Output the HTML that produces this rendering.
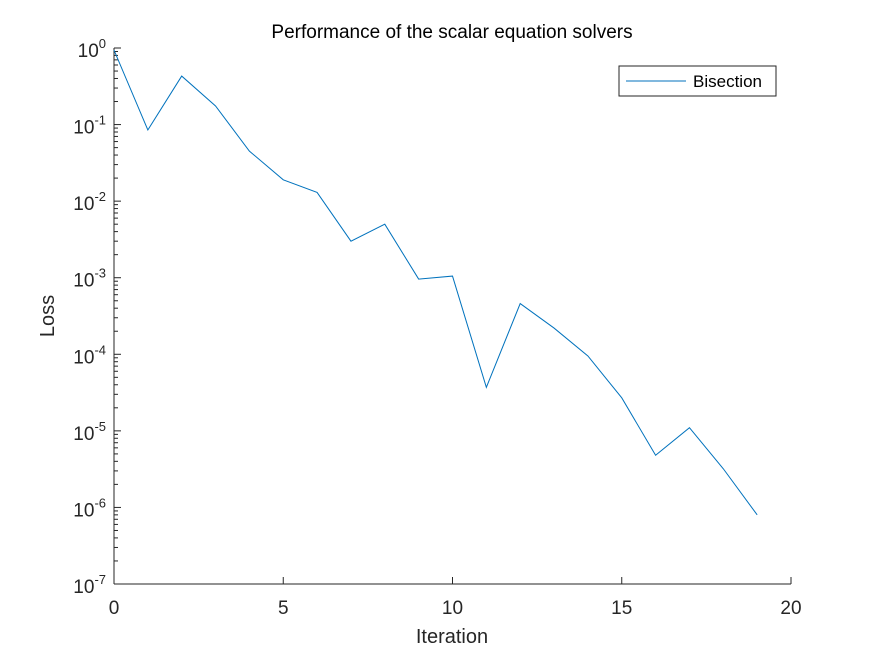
<!DOCTYPE html>
<html><head><meta charset="utf-8"><style>
body{margin:0;background:#fff;}
svg{display:block;font-family:"Liberation Sans",sans-serif;}
</style></head><body>
<svg id="chart" width="875" height="656" viewBox="0 0 875 656">
<rect x="0" y="0" width="875" height="656" fill="#fff"/>
<g id="axes"></g>
<g id="plot"></g>
<text x="452" y="38" text-anchor="middle" font-size="19" fill="#000">Performance of the scalar equation solvers</text>
<text x="452" y="643" text-anchor="middle" font-size="20" fill="#262626">Iteration</text>
<text x="0" y="0" transform="translate(54,316) rotate(-90)" text-anchor="middle" font-size="20" fill="#262626">Loss</text>
<g>
<rect x="619" y="66" width="157" height="30" fill="#fff" stroke="#262626" stroke-width="1"/>
<line x1="626" y1="81" x2="686" y2="81" stroke="#0072bd" stroke-width="1"/>
<text x="693" y="87" font-size="17" fill="#000">Bisection</text>
</g>
</svg>
<script>
const iterations=[0,1,2,3,4,5,6,7,8,9,10,11,12,13,14,15,16,17,18,19];
const lossValues=[0.94,0.085,0.43,0.175,0.045,0.019,0.013,0.003,0.005,0.00096,0.00105,3.7e-5,4.6e-4,2.2e-4,9.5e-5,2.7e-5,4.8e-6,1.1e-5,3.2e-6,8e-7];
const xTicks=[0,5,10,15,20];
const yTickExps=[0,-1,-2,-3,-4,-5,-6,-7];
const X0=114,X1=791,Y0=48,Y1=584;
const xs=v=>X0+(v-0)/(20-0)*(X1-X0);
const ys=v=>Y0+(0-Math.log10(v))/7*(Y1-Y0);
const NS='http://www.w3.org/2000/svg';
const ax=document.getElementById('axes'),pl=document.getElementById('plot');
function mk(tag,attrs,parent){const e=document.createElementNS(NS,tag);for(const k in attrs)e.setAttribute(k,attrs[k]);parent.appendChild(e);return e;}
let l=mk('line',{x1:X0,y1:Y1,x2:X1,y2:Y1,stroke:'#262626'},ax);


l=mk('line',{x1:X0,y1:Y0,x2:X0,y2:Y1,stroke:'#262626'},ax);


xTicks.forEach(t=>{
 const x=xs(t);
 const tk=mk('line',{x1:x,y1:Y1,x2:x,y2:Y1-7,stroke:'#262626'},ax);
 
 
 const tx=mk('text',{x:x,y:Y1+30,'text-anchor':'middle','font-size':'19',fill:'#262626'},ax);
 tx.textContent=t;
 
 
});
yTickExps.forEach(e=>{
 const y=ys(Math.pow(10,e));
 const tk=mk('line',{x1:X0,y1:y,x2:X0+7,y2:y,stroke:'#262626'},ax);
 
 
 if(e>-7){for(let m=2;m<=9;m++){const yy=ys(m*Math.pow(10,e-1));const mt=mk('line',{x1:X0,y1:yy,x2:X0+4,y2:yy,stroke:'#262626'},ax);
 
 }}
 const tx=mk('text',{x:X0-8,y:y+9,'text-anchor':'end','font-size':'19',fill:'#262626'},ax);
 tx.innerHTML='10<tspan dy="-9" font-size="13">'+e+'</tspan>';
 
 
});
const pts=iterations.map((v,i)=>xs(v)+','+ys(lossValues[i])).join(' ');
const line=mk('polyline',{points:pts,fill:'none',stroke:'#0072bd','stroke-width':'1'},pl);


</script>
</body></html>
